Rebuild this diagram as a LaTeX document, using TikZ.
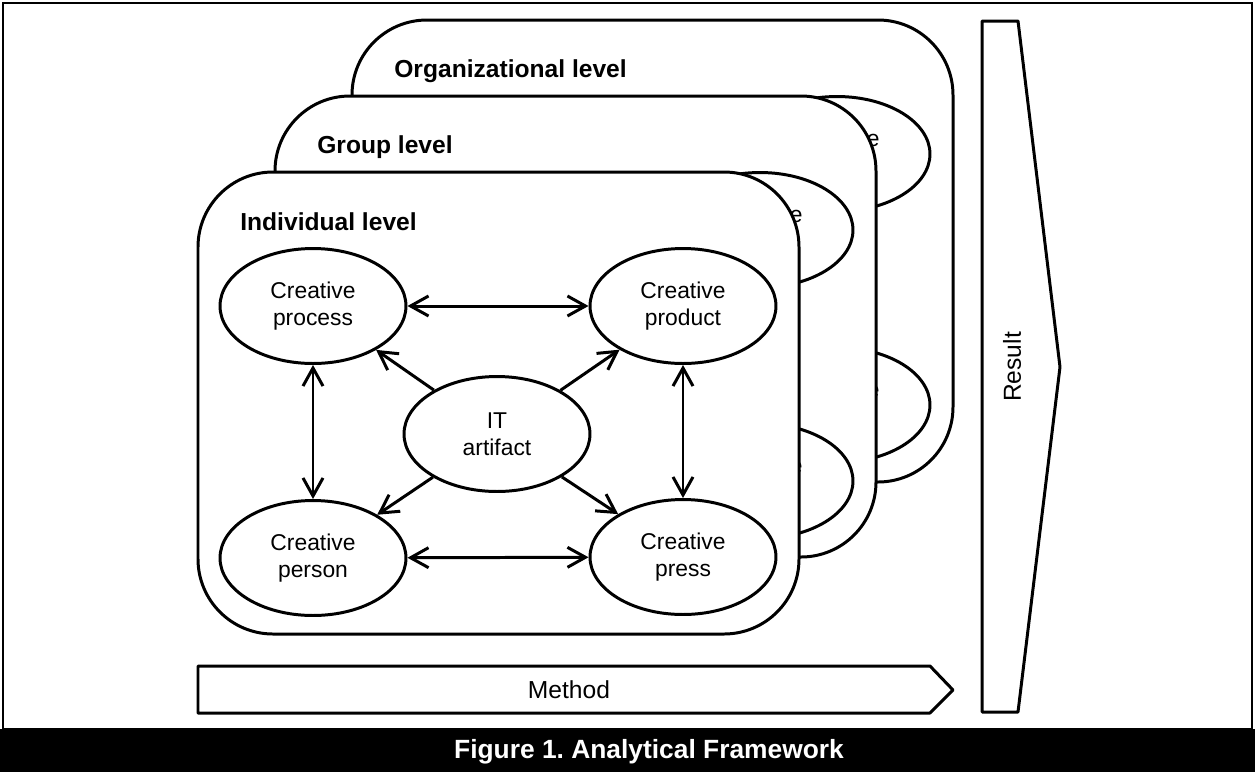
\documentclass[tikz,border=0pt]{standalone}
\usepackage{fontspec}
\setmainfont{Liberation Sans}
\usetikzlibrary{arrows.meta,shapes.geometric}
\frenchspacing

\begin{document}
\begin{tikzpicture}[x=0.02cm,y=-0.02cm,
    panel/.style={draw, line width=1.7pt, fill=white, rounded corners=1.5cm},
    blob/.style={draw, ellipse, line width=1.7pt, fill=white, inner sep=0pt,
        minimum width=3.72cm, minimum height=2.3cm, align=center,
        font=\fontsize{13}{15.3}\selectfont},
    leveltitle/.style={anchor=base west, inner sep=0pt, font=\fontsize{14}{16}\selectfont\bfseries},
    link/.style={line width=1.7pt, -{Straight Barb[length=3.6mm,width=4mm]}},
    twoway/.style={line width=1.7pt, {Straight Barb[length=3.6mm,width=4mm]}-{Straight Barb[length=3.6mm,width=4mm]}},
    flow/.style={draw, line width=1.7pt, line join=round},
    flowtext/.style={font=\fontsize{14}{16}\selectfont}]

    % Page frame and caption bar
    \useasboundingbox (0,0) rectangle (1255,772);
    \draw[line width=1.1pt] (3,3) rectangle (1252,729);
    \fill[black] (0,729) rectangle (1255,772);
    \node[text=white, font=\fontsize{15}{18}\selectfont\bfseries] (caption) at (649,752) {Figure 1. Analytical Framework};

    % Organizational level (back)
    \draw[panel] (352,20) rectangle (953,482);
    \node[leveltitle] (orgtitle) at (394,77) {Organizational level};
    \node[blob] (orgproduct) at (837,154) {Creative\\product};
    \node[blob] (orgpress) at (837,405) {Creative\\press};

    % Group level (middle)
    \draw[panel] (275,96) rectangle (876,557);
    \node[leveltitle] (grouptitle) at (317,153) {Group level};
    \node[blob] (groupproduct) at (760,230) {Creative\\product};
    \node[blob] (grouppress) at (760,481) {Creative\\press};

    % Individual level (front)
    \draw[panel] (198,172) rectangle (799,634);
    \node[leveltitle] (indtitle) at (240,230) {Individual level};
    \node[blob] (process) at (313,306) {Creative\\process};
    \node[blob] (product) at (683,306) {Creative\\product};
    \node[blob] (person) at (313,558) {Creative\\person};
    \node[blob] (press) at (683,557) {Creative\\press};
    \node[blob] (it) at (497,434) {IT\\artifact};

    % Links between the four P's
    \draw[twoway] (process) -- (product);
    \draw[twoway] (person) -- (press);
    \draw[twoway] (process) -- (person);
    \draw[twoway] (product) -- (press);

    % IT artifact acts on all of them
    \draw[link] (it) -- (process);
    \draw[link] (it) -- (product);
    \draw[link] (it) -- (person);
    \draw[link] (it) -- (press);

    % Method and Result arrows
    \draw[flow] (198,666) -- (930,666) -- (953,690) -- (930,713) -- (198,713) -- cycle;
    \node[flowtext] (method) at (569,690) {Method};
    \draw[flow] (982,21) -- (1018,21) -- (1060,367) -- (1018,712) -- (982,712) -- cycle;
    \node[flowtext, rotate=90] (result) at (1012,367) {Result};

\end{tikzpicture}
\end{document}
